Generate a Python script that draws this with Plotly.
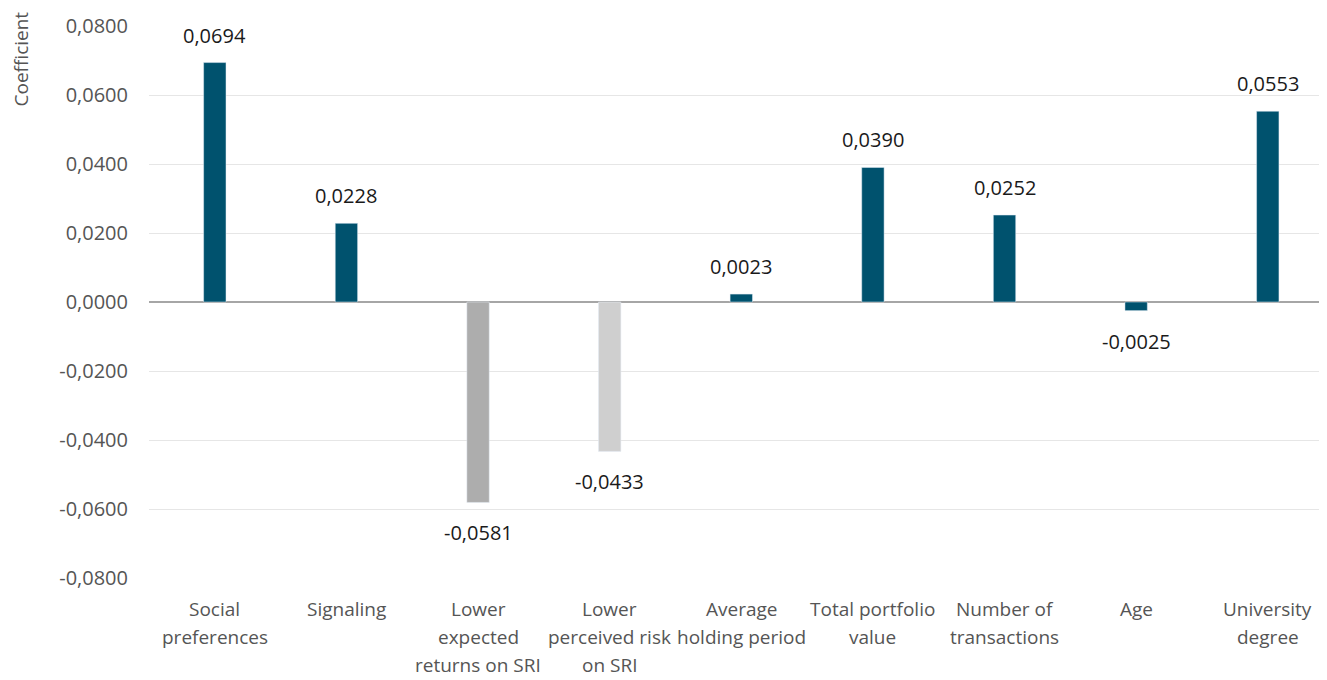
import plotly.graph_objects as go

categories = [["Social", "preferences"], ["Signaling"], ["Lower", "expected", "returns on SRI"],
              ["Lower", "perceived risk", "on SRI"], ["Average", "holding period"],
              ["Total portfolio", "value"], ["Number of", "transactions"], ["Age"], ["University", "degree"]]
values = [0.0694, 0.0228, -0.0581, -0.0433, 0.0023, 0.0390, 0.0252, -0.0025, 0.0553]
bar_colors = ["#00526E", "#00526E", "#ADADAD", "#CFCFCF", "#00526E", "#00526E", "#00526E", "#00526E", "#00526E"]
tick_vals = [0.08, 0.06, 0.04, 0.02, 0.0, -0.02, -0.04, -0.06, -0.08]

FONT = "Open Sans"

def fmt(v):
    s = f"{abs(v):.4f}".replace(".", ",")
    return ("-" if v < 0 else "") + s

x = list(range(len(categories)))
fig = go.Figure(go.Bar(x=x, y=values, marker_color=bar_colors, width=0.17, hoverinfo="skip"))

for xi, v in zip(x, values):
    fig.add_annotation(x=xi, y=v, text=fmt(v), showarrow=False,
                       yanchor="bottom" if v >= 0 else "top",
                       yshift=12 if v >= 0 else -15,
                       font=dict(size=20, color="#1a1a1a", family=FONT))

for xi, lines in zip(x, categories):
    for i, line in enumerate(lines):
        fig.add_annotation(x=xi, xref="x", y=0, yref="paper", text=line, showarrow=False,
                           yanchor="middle", yshift=-31 - 28 * i, borderpad=0,
                           font=dict(size=19, color="#555555", family=FONT))

fig.add_annotation(xref="paper", yref="paper", x=-0.1095, y=1.0, xanchor="center", yanchor="top",
                   yshift=16, text="Coefficient", textangle=-90, showarrow=False,
                   font=dict(size=19, color="#555555", family=FONT))

fig.update_layout(
    width=1319, height=672,
    margin=dict(l=141, r=0, t=18, b=102),
    plot_bgcolor="white", paper_bgcolor="white",
    font=dict(family=FONT, color="#555555", size=20),
    showlegend=False,
    xaxis=dict(range=[-0.5, 8.45], tickvals=x, showticklabels=False, showgrid=False,
               zeroline=False, showline=False, ticks=""),
    yaxis=dict(range=[-0.08, 0.08], tickvals=tick_vals, ticktext=[fmt(v) for v in tick_vals],
               showgrid=True, gridcolor="#E6E6E6", gridwidth=1,
               zeroline=True, zerolinecolor="#A6A6A6", zerolinewidth=1.5,
               ticks="", ticklen=0, tickfont=dict(size=20, color="#555555")),
)
fig.update_yaxes(ticklabelstandoff=20)
fig.write_html("out.html")
